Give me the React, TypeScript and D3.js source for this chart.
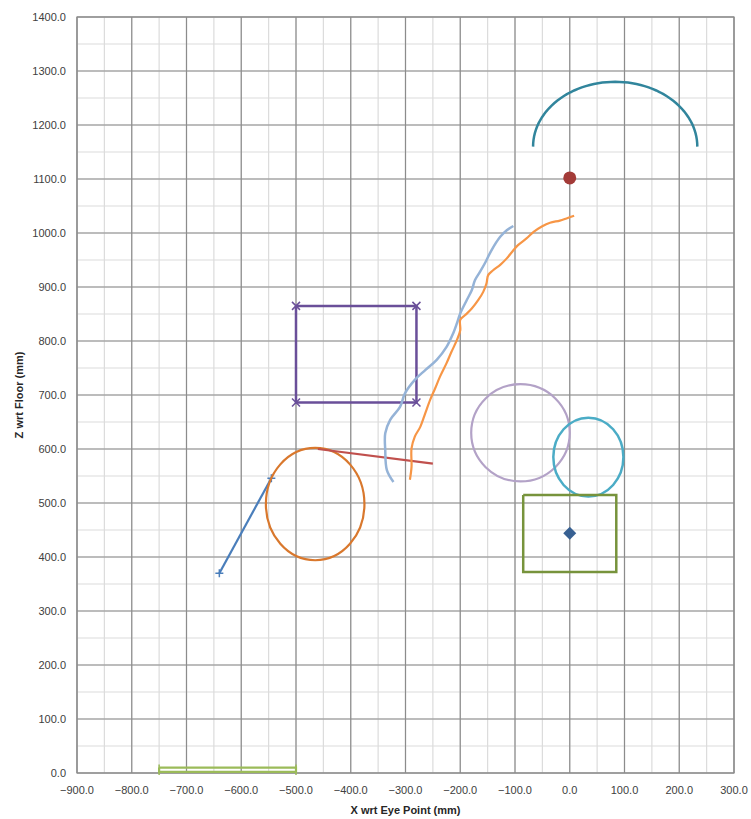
import React from "react";
import * as d3 from "d3";

// Axis domains and ticks
const xTicks = d3.range(-900, 301, 100);
const yTicks = d3.range(0, 1401, 100);
const xMinor = d3.range(-900, 301, 50);
const yMinor = d3.range(0, 1401, 50);

// Polyline series (x, z in mm)
const bluePath: [number, number][] = [
  [-640, 370],
  [-545, 546],
];
const redPath: [number, number][] = [
  [-460, 600],
  [-250, 573],
];
const greenFloorPath: [number, number][] = [
  [-750, 10],
  [-500, 10],
  [-500, 2],
  [-750, 2],
  [-750, 10],
];
const purpleBox: [number, number][] = [
  [-500, 865],
  [-280, 865],
  [-280, 686],
  [-500, 686],
  [-500, 865],
];
const greenBox: [number, number][] = [
  [-85, 515],
  [85, 515],
  [85, 372],
  [-85, 372],
  [-85, 515],
];
const lightBluePath: [number, number][] = [
  [-322, 539], [-334, 561], [-337, 598], [-337, 629], [-328, 654], [-310, 678],
  [-301, 703], [-283, 728], [-264, 746], [-243, 765], [-225, 789], [-213, 814],
  [-206, 833], [-200, 851], [-188, 876], [-179, 894], [-173, 913], [-164, 928],
  [-155, 944], [-143, 968], [-127, 993], [-115, 1005], [-103, 1013],
];
const orangePath: [number, number][] = [
  [-292, 543], [-289, 567], [-289, 601], [-283, 623], [-273, 641], [-264, 666],
  [-255, 691], [-246, 712], [-237, 734], [-225, 759], [-216, 780], [-206, 802],
  [-200, 820], [-200, 839], [-191, 848], [-179, 860], [-167, 876], [-158, 891],
  [-152, 907], [-149, 922], [-140, 931], [-127, 941], [-115, 953], [-103, 968],
  [-94, 978], [-79, 990], [-66, 1002], [-51, 1012], [-36, 1019], [-18, 1023],
  [-6, 1027], [8, 1032],
];

// Ellipses: centre x, centre z, radius x, radius z
const orangeEllipse = { cx: -465, cz: 498, rx: 90, rz: 104 };
const lavenderCircle = { cx: -90, cz: 630, rx: 90, rz: 90 };
const tealEllipse = { cx: 34, cz: 585, rx: 64, rz: 73 };
// Upper half-ellipse arc
const tealArc = { cx: 83, cz: 1160, rx: 150, rz: 120 };

// Single points
const diamondPoint: [number, number] = [0, 444];
const redPoint: [number, number] = [0, 1102];

const W = 751;
const H = 819;
const left = 77;
const right = 734;
const top = 17;
const bottom = 773;

const fmt = d3.format(".1f");

export default function App() {
  const x = d3.scaleLinear().domain([-900, 300]).range([left, right]);
  const y = d3.scaleLinear().domain([0, 1400]).range([bottom, top]);
  const line = d3
    .line<[number, number]>()
    .x((d) => x(d[0]))
    .y((d) => y(d[1]));
  const smooth = d3
    .line<[number, number]>()
    .x((d) => x(d[0]))
    .y((d) => y(d[1]))
    .curve(d3.curveCatmullRom.alpha(0.5));

  const arcPts: [number, number][] = d3
    .range(0, 181, 3)
    .map((a) => {
      const t = (a * Math.PI) / 180;
      return [tealArc.cx + tealArc.rx * Math.cos(t), tealArc.cz + tealArc.rz * Math.sin(t)];
    });

  const ell = (e: { cx: number; cz: number; rx: number; rz: number }, color: string, sw: number) => (
    <ellipse
      cx={x(e.cx)}
      cy={y(e.cz)}
      rx={x(e.cx + e.rx) - x(e.cx)}
      ry={y(e.cz) - y(e.cz + e.rz)}
      fill="none"
      stroke={color}
      strokeWidth={sw}
    />
  );

  const crossX = (p: [number, number], color: string, k: string) => {
    const px = x(p[0]);
    const py = y(p[1]);
    const s = 4;
    return (
      <path
        key={k}
        d={`M${px - s},${py - s}L${px + s},${py + s}M${px - s},${py + s}L${px + s},${py - s}`}
        stroke={color}
        strokeWidth={1.5}
      />
    );
  };
  const plus = (p: [number, number], color: string, k: string) => {
    const px = x(p[0]);
    const py = y(p[1]);
    const s = 4;
    return (
      <path
        key={k}
        d={`M${px - s},${py}L${px + s},${py}M${px},${py - s}L${px},${py + s}`}
        stroke={color}
        strokeWidth={1.5}
      />
    );
  };

  const fontFamily = "'Liberation Sans', Arial, sans-serif";

  return (
    <svg
      width={W}
      height={H}
      style={{ position: "absolute", left: 0, top: 0, background: "#fff" }}
      fontFamily={fontFamily}
    >
      <rect x={0} y={0} width={W} height={H} fill="#fff" />
      {/* minor grid */}
      {xMinor.map((v) => (
        <line key={"xm" + v} x1={x(v)} x2={x(v)} y1={top} y2={bottom} stroke="#dcdcdc" strokeWidth={1.2} />
      ))}
      {yMinor.map((v) => (
        <line key={"ym" + v} y1={y(v)} y2={y(v)} x1={left} x2={right} stroke="#dcdcdc" strokeWidth={1.2} />
      ))}
      {/* major grid */}
      {xTicks.map((v) => (
        <line key={"x" + v} x1={x(v)} x2={x(v)} y1={top} y2={bottom} stroke="#8c8c8c" strokeWidth={1.2} />
      ))}
      {yTicks.map((v) => (
        <line key={"y" + v} y1={y(v)} y2={y(v)} x1={left} x2={right} stroke="#8c8c8c" strokeWidth={1.2} />
      ))}
      <rect x={left} y={top} width={right - left} height={bottom - top} fill="none" stroke="#8c8c8c" strokeWidth={1.2} />

      {/* tick labels */}
      {xTicks.map((v) => (
        <text key={"xl" + v} x={x(v)} y={bottom + 21} fontSize={11} fill="#404040" textAnchor="middle">
          {fmt(v)}
        </text>
      ))}
      {yTicks.map((v) => (
        <text key={"yl" + v} x={left - 11} y={y(v) + 4} fontSize={11} fill="#404040" textAnchor="end">
          {fmt(v)}
        </text>
      ))}
      <text x={(left + right) / 2} y={814} fontSize={11} fontWeight="bold" textAnchor="middle" fill="#262626">
        X wrt Eye Point (mm)
      </text>
      <text
        transform={`translate(23,${(top + bottom) / 2}) rotate(-90)`}
        fontSize={11}
        fontWeight="bold"
        textAnchor="middle"
        fill="#262626"
      >
        Z wrt Floor (mm)
      </text>

      {/* series */}
      <path d={line(greenFloorPath) || ""} fill="none" stroke="#9bbb59" strokeWidth={2.2} />
      {[greenFloorPath[0], greenFloorPath[1]].map((p, i) => (
        <path
          key={"gm" + i}
          d={`M${x(p[0])},${y(p[1]) - 3}L${x(p[0])},${y(p[1] - 8) + 3}`}
          stroke="#9bbb59"
          strokeWidth={1.5}
        />
      ))}

      <path d={line(bluePath) || ""} fill="none" stroke="#4a7ebb" strokeWidth={2.2} />
      {bluePath.map((p, i) => plus(p, "#4a7ebb", "bp" + i))}

      {ell(orangeEllipse, "#d9782d", 2.2)}
      <path d={line(redPath) || ""} fill="none" stroke="#c0504d" strokeWidth={2.2} />

      <path d={line(purpleBox) || ""} fill="none" stroke="#6a4f99" strokeWidth={2.5} />
      {purpleBox.slice(0, 4).map((p, i) => crossX(p, "#6a4f99", "pb" + i))}

      <path d={smooth(lightBluePath) || ""} fill="none" stroke="#95b3d7" strokeWidth={2.5} />
      <path d={smooth(orangePath) || ""} fill="none" stroke="#f79646" strokeWidth={2.2} />

      {ell(lavenderCircle, "#b3a2c7", 2.2)}
      {ell(tealEllipse, "#4bacc6", 2.5)}

      <path d={line(greenBox) || ""} fill="none" stroke="#77933c" strokeWidth={2.5} />

      <path
        d={d3.symbol().type(d3.symbolSquare).size(85)() || ""}
        transform={`translate(${x(diamondPoint[0])},${y(diamondPoint[1])}) rotate(45)`}
        fill="#376092"
      />
      <circle cx={x(redPoint[0])} cy={y(redPoint[1])} r={6.5} fill="#a33b38" />

      <path d={line(arcPts) || ""} fill="none" stroke="#31859c" strokeWidth={2.5} />
    </svg>
  );
}
